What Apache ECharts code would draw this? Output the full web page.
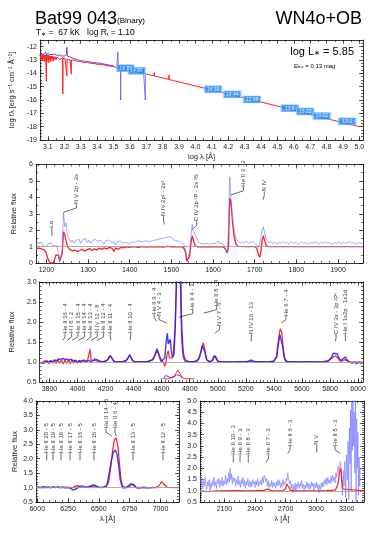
<!DOCTYPE html>
<html>
<head>
<meta charset="utf-8">
<script src="https://cdn.jsdelivr.net/npm/echarts@6.0.0/dist/echarts.min.js"></script>
<style>
    body { margin: 0; background: #fff; }
    #chart { width: 382px; height: 541px; }
</style>
</head>
<body>
<div id="chart"></div>
<script>

// ---- SED panel (log lambda, log f_lambda)
const sedModel = [[3.050,-12.60],[3.054,-12.66],[3.057,-12.85],[3.060,-12.58],[3.063,-12.95],[3.066,-12.6],[3.069,-13.05],[3.072,-12.62],[3.075,-12.9],[3.078,-12.6],[3.081,-13.12],[3.084,-12.64],[3.087,-12.85],[3.0905,-12.7],[3.091,-14.6],[3.0915,-12.75],[3.094,-13.15],[3.097,-12.66],[3.100,-12.95],[3.103,-12.64],[3.106,-13.2],[3.109,-12.68],[3.112,-12.98],[3.115,-12.7],[3.118,-13.12],[3.121,-12.72],[3.124,-12.9],[3.128,-12.7],[3.132,-13.08],[3.136,-12.74],[3.140,-12.95],[3.145,-12.76],[3.150,-13.0],[3.155,-12.78],[3.160,-12.92],[3.166,-12.8],[3.172,-12.95],[3.178,-12.82],[3.184,-12.9],[3.1905,-12.83],[3.191,-15.55],[3.1915,-12.85],[3.198,-12.95],[3.204,-12.86],[3.210,-12.98],[3.2155,-12.9],[3.216,-14.2],[3.2165,-12.92],[3.222,-13.02],[3.228,-12.93],[3.235,-13.0],[3.2425,-12.97],[3.243,-14.05],[3.2435,-12.98],[3.25,-13.05],[3.26,-13.02],[3.28,-13.1],[3.30,-13.1],[3.32,-13.2],[3.34,-13.16],[3.36,-13.26],[3.38,-13.25],[3.40,-13.32],[3.42,-13.33],[3.44,-13.37],[3.46,-13.42],[3.48,-13.46],[3.50,-13.5],[3.52,-13.55],[3.54,-13.6],[3.56,-13.65],[3.58,-13.7],[3.60,-13.75],[3.62,-13.81],[3.64,-13.87],[3.66,-13.93],[3.68,-13.99],[3.70,-14.05],[3.72,-14.11],[3.748,-14.19],[3.749,-13.95],[3.750,-14.2],[3.78,-14.29],[3.80,-14.35],[3.838,-14.46],[3.839,-14.12],[3.840,-14.47],[3.868,-14.55],[3.869,-14.42],[3.870,-14.56],[3.898,-14.64],[3.899,-14.53],[3.900,-14.65],[3.928,-14.73],[3.929,-14.63],[3.930,-14.74],[3.958,-14.82],[3.959,-14.74],[3.960,-14.83],[4.0,-14.95],[4.1,-15.25],[4.2,-15.55],[4.3,-15.85],[4.4,-16.15],[4.5,-16.46],[4.6,-16.77],[4.7,-17.08],[4.8,-17.4],[4.9,-17.7],[5.0,-18.0]];
const sedObsUV = [[3.055,-12.45],[3.060,-12.55],[3.065,-12.4],[3.070,-12.6],[3.075,-12.45],[3.080,-12.5],[3.085,-12.42],[3.089,-12.55],[3.091,-12.3],[3.093,-12.7],[3.097,-12.5],[3.100,-12.55],[3.105,-12.48],[3.110,-12.58],[3.115,-12.5],[3.120,-12.55],[3.125,-12.6],[3.130,-12.52],[3.135,-12.62],[3.140,-12.55],[3.145,-12.6],[3.150,-12.58],[3.155,-12.66],[3.160,-12.6],[3.165,-12.65],[3.170,-12.62],[3.175,-12.68],[3.180,-12.64],[3.185,-12.7],[3.190,-12.66],[3.195,-12.6],[3.200,-12.7],[3.205,-12.65],[3.210,-12.72],[3.214,-12.6],[3.216,-12.05],[3.218,-12.7],[3.225,-12.75],[3.230,-12.7],[3.240,-12.8],[3.250,-12.85],[3.260,-12.9],[3.270,-12.92],[3.280,-12.98],[3.290,-13.0],[3.300,-13.05],[3.320,-13.08],[3.340,-13.12],[3.360,-13.15],[3.380,-13.2],[3.400,-13.22],[3.420,-13.25],[3.440,-13.3],[3.460,-13.35],[3.480,-13.4],[3.500,-13.42]];
const sedObsOpt = [[3.520,-13.45],[3.525,-13.5],[3.527,-12.4],[3.529,-13.5],[3.535,-13.52],[3.543,-13.55],[3.544,-16.0],[3.545,-13.55],[3.550,-13.58],[3.560,-13.6],[3.570,-13.64],[3.580,-13.66],[3.590,-13.7],[3.600,-13.72],[3.610,-13.75],[3.620,-13.78],[3.630,-13.8],[3.640,-13.83],[3.650,-13.86],[3.660,-13.88],[3.670,-13.9],[3.675,-13.85],[3.681,-13.6],[3.684,-13.95],[3.690,-13.98],[3.693,-13.98],[3.694,-16.0],[3.695,-14.0]];
const sedPhot = [[3.573,-13.62,'14.73'],[3.641,-13.81,'14.97'],[4.108,-15.2,'14.19'],[4.225,-15.58,'14.44'],[4.345,-15.96,'13.98'],[4.575,-16.62,'13.6'],[4.670,-16.86,'13.23'],[4.770,-17.2,'13.22'],[4.925,-17.6,'13.0']];

// ---- UV panel
const uvModel = [[1175,0.88],[1182,0.9],[1188,0.86],[1194,0.82],[1199,0.65],[1203,0.3],[1207,0.06],[1212,0.0],[1217,0.02],[1220,0.25],[1223,0.5],[1226,0.56],[1229,0.45],[1232,0.1],[1235,0.05],[1238,0.6],[1241,1.9],[1244,1.75],[1247,1.35],[1251,1.0],[1256,0.82],[1262,0.74],[1268,0.78],[1274,0.7],[1280,0.76],[1286,0.84],[1291,0.72],[1297,0.8],[1303,0.88],[1309,0.76],[1315,0.86],[1321,0.8],[1327,0.9],[1333,0.83],[1339,0.92],[1345,0.86],[1351,0.95],[1357,0.9],[1362,0.7],[1366,0.92],[1372,0.84],[1378,0.95],[1385,0.92],[1392,0.98],[1400,0.95],[1410,1.0],[1420,0.96],[1430,1.0],[1440,0.97],[1450,1.0],[1460,0.98],[1470,1.0],[1480,0.97],[1490,1.01],[1500,0.99],[1510,1.0],[1520,0.98],[1528,0.97],[1533,0.75],[1537,0.1],[1541,0.0],[1544,0.45],[1547,1.2],[1550,1.65],[1553,1.4],[1557,1.05],[1562,0.99],[1580,1.0],[1600,0.99],[1615,1.0],[1625,0.97],[1630,0.85],[1634,0.62],[1637,1.0],[1640,3.95],[1643,3.7],[1646,2.7],[1650,1.7],[1655,1.15],[1660,1.01],[1680,1.0],[1700,1.0],[1705,0.9],[1709,0.5],[1712,0.35],[1715,0.7],[1718,1.4],[1721,1.66],[1724,1.35],[1728,1.05],[1735,1.0],[1800,1.0],[1900,1.0],[1960,1.0]];
const uvObs = [[1176,1.34],[1180,1.2],[1184,1.1],[1188,1.25],[1192,1.05],[1196,1.15],[1200,1.0],[1204,1.18],[1208,1.3],[1212,1.22],[1216,1.05],[1220,0.95],[1224,1.05],[1228,0.7],[1232,0.15],[1235,0.1],[1238,0.8],[1241,3.1],[1244,2.2],[1247,2.45],[1250,1.8],[1254,1.5],[1258,1.25],[1262,1.4],[1266,1.2],[1270,1.35],[1274,1.25],[1278,1.45],[1282,1.2],[1286,1.4],[1290,1.3],[1294,1.5],[1298,1.25],[1302,1.4],[1306,1.2],[1310,1.35],[1314,1.25],[1318,1.45],[1322,1.3],[1326,1.2],[1330,1.4],[1334,1.3],[1338,1.15],[1342,1.35],[1346,1.25],[1350,1.4],[1354,1.3],[1358,1.2],[1362,1.35],[1366,1.1],[1370,1.3],[1374,1.25],[1378,1.35],[1382,1.2],[1386,1.3],[1390,1.25],[1394,1.35],[1398,1.2],[1402,1.3],[1406,1.25],[1410,1.15],[1414,1.3],[1418,1.2],[1422,1.35],[1426,1.25],[1430,1.3],[1434,1.2],[1438,1.35],[1442,1.25],[1446,1.3],[1450,1.2],[1454,1.35],[1458,1.3],[1462,1.4],[1466,1.3],[1470,1.45],[1474,1.35],[1478,1.5],[1482,1.45],[1486,1.55],[1490,1.45],[1494,1.6],[1498,1.5],[1502,1.55],[1506,1.4],[1510,1.3],[1514,1.35],[1518,1.25],[1522,1.3],[1526,1.2],[1530,1.15],[1534,0.8],[1538,0.2],[1541,0.1],[1544,0.7],[1547,1.6],[1550,2.35],[1553,1.9],[1556,2.0],[1560,1.6],[1564,1.35],[1568,1.2],[1572,1.3],[1576,1.15],[1580,1.25],[1584,1.2],[1588,1.3],[1592,1.15],[1596,1.25],[1600,1.2],[1604,1.3],[1608,1.2],[1612,1.35],[1616,1.2],[1620,1.3],[1624,1.15],[1628,1.0],[1632,0.6],[1635,0.9],[1638,3.0],[1640,5.25],[1643,4.0],[1646,3.0],[1649,2.3],[1653,1.7],[1657,1.4],[1661,1.3],[1665,1.2],[1670,1.3],[1675,1.2],[1680,1.35],[1685,1.2],[1690,1.25],[1695,1.3],[1700,1.2],[1705,1.1],[1709,0.95],[1713,1.3],[1717,1.9],[1721,2.2],[1725,1.7],[1729,1.4],[1733,1.25],[1738,1.3],[1743,1.2],[1748,1.25],[1753,1.15],[1758,1.25],[1763,1.2],[1768,1.3],[1773,1.2],[1778,1.25],[1783,1.15],[1788,1.3],[1793,1.2],[1798,1.25],[1803,1.15],[1808,1.2],[1813,1.3],[1818,1.2],[1823,1.25],[1828,1.15],[1833,1.2],[1838,1.25],[1843,1.2],[1848,1.3],[1853,1.15],[1858,1.25],[1863,1.2],[1868,1.3],[1873,1.2],[1878,1.25],[1883,1.15],[1888,1.2],[1893,1.25],[1898,1.2],[1903,1.3],[1908,1.15],[1913,1.25],[1918,1.2],[1923,1.25],[1928,1.3],[1933,1.2],[1938,1.25],[1943,1.15],[1948,1.2],[1953,1.25],[1958,1.2]];
// [label x, text bottom, text, line x]
const uvIds = [[1213,2.15,'Lα',1213],[1272,3.6,'N V 2p - 2s',1242],[1481,2.85,'N IV 2p¹ - 2s¹',1483],[1561,2.55,'C IV 2p ²P - 2s ²S',1550],[1673,4.65,'He II 3 - 2',1643],[1723,4.35,'N IV',1720]];

// ---- optical panel
const optModel = [[3730,1.0],[3745,0.98],[3760,1.02],[3772,0.97],[3785,1.03],[3798,0.96],[3810,1.04],[3822,0.97],[3835,1.05],[3848,0.96],[3860,1.06],[3872,0.96],[3885,1.05],[3898,0.95],[3910,1.06],[3922,0.96],[3935,1.05],[3948,0.95],[3960,1.06],[3972,0.97],[3985,1.05],[3998,0.97],[4010,1.04],[4025,0.98],[4040,1.05],[4055,0.99],[4070,1.02],[4082,1.05],[4090,1.32],[4097,1.05],[4108,1.0],[4122,1.04],[4134,1.09],[4146,1.02],[4170,1.0],[4200,1.02],[4222,1.08],[4236,1.16],[4249,1.06],[4265,1.0],[4320,1.01],[4355,1.06],[4372,1.18],[4388,1.05],[4410,1.0],[4500,1.01],[4540,1.06],[4556,1.2],[4568,1.28],[4580,1.18],[4592,1.03],[4610,1.0],[4622,0.9],[4630,0.96],[4638,1.2],[4647,1.28],[4655,1.1],[4668,1.05],[4680,1.1],[4695,1.8],[4705,3.0],[4714,5.0],[4724,5.5],[4733,3.0],[4742,1.6],[4752,1.15],[4765,1.02],[4800,1.0],[4850,1.01],[4870,1.1],[4885,1.35],[4897,1.48],[4908,1.3],[4920,1.06],[4940,1.0],[4965,1.05],[4978,1.16],[4990,1.06],[5005,1.0],[5100,1.0],[5220,1.01],[5238,1.06],[5255,1.01],[5350,1.0],[5400,1.02],[5418,1.15],[5432,1.55],[5445,1.83],[5456,1.75],[5466,1.35],[5478,1.08],[5495,1.01],[5600,1.0],[5780,1.01],[5805,1.07],[5825,1.13],[5840,1.15],[5855,1.1],[5872,1.02],[5890,1.03],[5905,1.06],[5918,1.02],[5940,1.0],[6035,1.0]];
const optObs = [[3732,0.98],[3745,1.0],[3760,0.97],[3775,1.02],[3790,0.99],[3805,1.03],[3820,1.0],[3835,1.05],[3850,1.03],[3865,1.08],[3880,1.06],[3895,1.09],[3910,1.06],[3925,1.08],[3940,1.05],[3955,1.07],[3970,1.03],[3985,1.04],[4000,1.0],[4015,1.03],[4030,1.02],[4045,1.05],[4060,1.02],[4075,1.04],[4090,1.02],[4110,1.03],[4125,1.08],[4134,1.11],[4145,1.05],[4160,1.02],[4180,1.01],[4200,1.02],[4215,1.05],[4228,1.15],[4236,1.17],[4246,1.1],[4258,1.02],[4280,1.0],[4300,1.01],[4320,1.0],[4345,1.02],[4360,1.1],[4372,1.18],[4384,1.1],[4396,1.02],[4420,1.0],[4450,1.01],[4480,1.0],[4510,1.02],[4535,1.06],[4552,1.18],[4566,1.33],[4576,1.3],[4588,1.12],[4600,1.02],[4612,1.0],[4622,1.1],[4632,1.5],[4640,1.72],[4647,1.45],[4654,1.5],[4661,1.57],[4668,1.3],[4676,1.12],[4688,1.2],[4698,2.0],[4708,3.4],[4716,6.5],[4726,6.0],[4734,3.4],[4742,2.0],[4750,1.4],[4758,1.15],[4770,1.05],[4785,1.02],[4800,1.0],[4820,1.01],[4840,1.02],[4860,1.06],[4875,1.2],[4890,1.4],[4899,1.42],[4908,1.25],[4920,1.06],[4940,1.01],[4960,1.03],[4972,1.15],[4980,1.2],[4988,1.12],[5000,1.02],[5030,1.0],[5060,1.01],[5100,1.0],[5150,1.01],[5200,1.0],[5225,1.03],[5239,1.05],[5252,1.02],[5280,1.0],[5320,1.01],[5360,1.0],[5400,1.02],[5420,1.12],[5432,1.45],[5443,1.68],[5452,1.66],[5462,1.4],[5472,1.12],[5485,1.02],[5510,1.0],[5550,1.01],[5600,1.0],[5650,1.01],[5700,1.0],[5750,1.01],[5790,1.03],[5810,1.12],[5825,1.22],[5839,1.26],[5852,1.2],[5865,1.08],[5880,1.04],[5895,1.09],[5910,1.12],[5922,1.05],[5940,0.99],[5960,0.97],[5975,1.0],[5990,0.96],[6005,0.99],[6020,0.97],[6033,0.98]];
const optInsetModel = [[4612,0.58],[4640,0.58],[4660,0.6],[4690,0.65],[4705,0.74],[4715,0.8],[4725,0.78],[4735,0.68],[4750,0.6],[4770,0.58],[4800,0.58],[4830,0.58]];
const optInsetObs = [[4612,0.59],[4620,0.62],[4628,0.66],[4636,0.62],[4645,0.64],[4655,0.6],[4670,0.6],[4690,0.63],[4705,0.68],[4718,0.72],[4730,0.66],[4745,0.6]];
const optIds = [[3911,1.72,'He II 16 - 4',3896],[3958,1.72,'H I 8 - 2',3927],[4003,1.72,'He II 15 - 4',3961],[4050,1.72,'He II 14 - 4',4006],[4095,1.72,'He II 13 - 4',4064],[4141,1.72,'N IV 12 - 8',4096],[4186,1.72,'He II 12 - 4',4138],[4233,1.72,'He II 11 - 4',4238],[4379,1.72,'He II 10 - 4',4374],[4546,2.2,'He II 9 - 4',4566],[4581,2.15,'N V 4 - 3',4640],[4821,2.3,'He II 4 - 3',4722],[4992,2.4,'He II 8 - 4',4899],[5013,1.9,'N V 7 - 6',4980],[5239,1.7,'N IV 16 - 13',5239],[5486,2.15,'He II 7 - 4',5451],[5843,1.7,'C IV 3s - 3p ²P°',5839],[5909,1.7,'He I 1s2p - 1s3d',5910]];

// ---- red optical panel
const haModel = [[5990,1.0],[6040,1.01],[6080,1.0],[6130,1.02],[6180,1.0],[6240,1.01],[6290,1.0],[6310,1.05],[6330,1.07],[6350,1.02],[6400,1.01],[6440,1.04],[6465,1.06],[6490,1.02],[6530,1.01],[6560,1.03],[6580,1.2],[6596,1.7],[6612,2.3],[6626,2.65],[6640,2.72],[6654,2.45],[6668,1.8],[6680,1.25],[6694,1.05],[6720,1.0],[6750,1.04],[6770,1.13],[6785,1.1],[6800,1.02],[6830,1.0],[6960,1.0],[6990,1.07],[7008,1.2],[7022,1.22],[7036,1.08],[7055,1.01],[7150,1.0]];
const haObs = [[5992,1.01],[6010,1.02],[6030,1.0],[6050,1.03],[6070,1.01],[6090,1.02],[6110,0.99],[6130,1.02],[6150,1.0],[6170,1.03],[6190,1.0],[6210,1.02],[6230,0.99],[6250,1.01],[6270,0.97],[6290,0.92],[6305,0.9],[6320,0.96],[6340,1.03],[6360,1.06],[6380,1.03],[6400,1.01],[6420,1.03],[6440,1.07],[6460,1.09],[6480,1.05],[6500,1.01],[6520,1.0],[6545,1.02],[6566,1.1],[6584,1.5],[6602,1.95],[6618,2.22],[6634,2.3],[6648,2.15],[6662,1.7],[6674,1.25],[6688,1.05],[6700,0.98],[6720,1.0],[6740,1.06],[6758,1.13],[6772,1.15],[6786,1.08],[6800,1.0],[6820,0.98],[6845,1.0],[6870,1.01],[6900,0.99],[6925,1.0],[6945,1.01]];
const haIds = [[6077,2.2,'He II 20 - 5',6077],[6128,2.2,'He II 19 - 5',6128],[6193,2.2,'He II 18 - 5',6193],[6266,2.2,'He II 17 - 5',6266],[6347,2.2,'He II 16 - 5',6347],[6460,2.2,'He II 15 - 5',6460],[6558,3.05,'He II 14 - 5',6605],[6631,3.05,'He II 6 - 4',6640],[6777,2.2,'He II 13 - 5',6777],[7020,2.2,'He II 12 - 5',7020]];

// ---- near-UV panel
const nuvModel = [[1860,1.0],[1900,0.98],[1940,0.96],[1980,0.98],[2020,1.0],[2100,1.0],[2200,1.01],[2300,1.0],[2400,1.01],[2490,1.02],[2515,1.07],[2528,1.1],[2542,1.04],[2570,1.0],[2680,1.01],[2700,1.1],[2712,1.3],[2722,1.35],[2733,1.15],[2748,1.02],[2800,1.0],[2950,1.0],[3100,1.01],[3190,1.03],[3215,1.3],[3230,1.85],[3242,2.0],[3252,1.5],[3262,1.08],[3280,1.0],[3470,1.0]];
const nuvObs = [[1862,1.7],[1870,1.3],[1878,1.55],[1886,1.1],[1894,1.45],[1902,1.2],[1910,1.6],[1918,1.3],[1926,1.05],[1934,1.4],[1942,1.2],[1950,1.5],[1958,1.0],[1966,1.35],[1974,1.15],[1982,1.45],[1990,1.25],[1998,1.6],[2006,1.2],[2014,1.4],[2022,1.1],[2030,1.5],[2038,1.3],[2046,1.55],[2054,1.15],[2062,1.45],[2070,1.25],[2078,1.6],[2086,1.2],[2094,1.45],[2102,1.3],[2110,1.7],[2118,1.25],[2126,1.55],[2134,1.35],[2142,1.8],[2150,1.4],[2156,2.0],[2162,1.5],[2170,1.75],[2178,1.3],[2186,1.6],[2194,1.4],[2202,1.55],[2210,1.2],[2218,1.5],[2226,1.3],[2234,1.65],[2242,1.25],[2250,1.45],[2258,1.15],[2266,1.5],[2274,1.3],[2282,1.6],[2290,1.2],[2298,1.45],[2306,1.1],[2314,1.4],[2322,1.25],[2330,1.55],[2338,1.2],[2346,1.45],[2354,1.15],[2362,1.4],[2370,1.2],[2378,1.5],[2386,1.3],[2394,1.4],[2402,1.15],[2410,1.45],[2418,1.25],[2426,1.55],[2434,1.2],[2442,1.4],[2450,1.3],[2458,1.5],[2466,1.25],[2474,1.6],[2482,1.35],[2490,1.7],[2498,1.75],[2506,1.4],[2514,1.55],[2522,1.2],[2530,1.45],[2538,1.1],[2546,1.35],[2554,1.2],[2562,1.45],[2570,1.15],[2578,1.4],[2586,1.2],[2594,1.35],[2602,1.1],[2610,1.4],[2618,1.2],[2626,1.5],[2634,1.25],[2642,1.45],[2650,1.15],[2658,1.35],[2666,1.2],[2674,1.5],[2682,1.25],[2690,1.4],[2698,1.3],[2706,1.55],[2714,1.45],[2722,1.8],[2730,1.5],[2738,1.3],[2746,1.45],[2754,1.1],[2762,1.3],[2770,0.9],[2778,1.25],[2786,1.05],[2794,1.35],[2802,1.0],[2810,1.3],[2818,1.15],[2826,1.4],[2834,1.1],[2842,1.35],[2850,1.2],[2858,1.45],[2866,1.1],[2874,1.3],[2882,0.95],[2890,1.25],[2898,1.1],[2906,1.4],[2914,1.15],[2922,1.35],[2930,1.05],[2938,1.3],[2946,1.1],[2954,1.4],[2962,1.2],[2970,1.35],[2978,1.0],[2986,1.3],[2994,1.15],[3002,1.4],[3010,1.1],[3018,1.3],[3026,0.9],[3034,1.25],[3042,1.05],[3050,1.35],[3058,1.15],[3066,1.4],[3074,1.2],[3082,1.5],[3090,1.3],[3098,1.55],[3106,1.25],[3114,1.6],[3122,1.35],[3130,1.5],[3138,1.3],[3146,1.65],[3154,1.4],[3162,1.7],[3170,1.45],[3178,1.6],[3186,1.35],[3194,1.8],[3202,1.6],[3210,2.0],[3218,2.1],[3226,1.7],[3236,2.3],[3244,2.1],[3250,1.3],[3258,0.8],[3266,1.9],[3274,1.2],[3282,2.3],[3290,0.7],[3298,2.6],[3306,1.5],[3314,3.2],[3320,0.6],[3326,3.8],[3332,2.2],[3338,4.6],[3344,1.0],[3350,5.4],[3356,2.8],[3362,5.2],[3368,3.0],[3374,4.5],[3380,1.8],[3386,5.3],[3392,0.5],[3398,4.2],[3404,2.0],[3410,3.6],[3416,0.8],[3422,2.5],[3428,1.2],[3432,2.0]];
const nuvIds = [[2187,2.6,'He II 10 - 3',2187],[2253,2.6,'He II 9 - 3',2253],[2334,2.6,'He II 8 - 3',2334],[2531,2.6,'He II 7 - 3',2505],[2744,3.0,'He II 6 - 3',2722],[3006,3.05,'N V',3006],[3185,3.0,'He II 5 - 3',3236]];

const FONT = '"Liberation Sans", Arial, sans-serif';
const NARROW = '"Liberation Sans Narrow", "Liberation Sans", sans-serif';
const RED = '#ff1f1f';

// tick positions only
function span(a, b, step){
    let out = [];
    for(let v = a; v <= b + step * 1e-6; v += step){
        out.push(+v.toFixed(4));
    }
    return out;
}

const grids = [
    {left: 36, top: 40, width: 327, height: 100},
    {left: 36, top: 164.5, width: 327, height: 98.5},
    {left: 36, top: 282, width: 327, height: 100},
    {left: 36, top: 401, width: 143, height: 101},
    {left: 200, top: 401, width: 164, height: 101}
];

const f1 = v => v.toFixed(1);
const f0 = v => String(Math.round(v));

let xAxes = [];
let yAxes = [];

function addAxes(gi, dir, min, max, majors, minors, fmt, name, nameGap){
    let list = dir === 'x' ? xAxes : yAxes;
    let sides = dir === 'x' ? ['bottom', 'top'] : ['left', 'right'];
    let base = {type: 'value', gridIndex: gi, min: min, max: max, splitLine: {show: false}};
    let axisLine = {show: true, onZero: false, lineStyle: {color: '#000', width: 0.8}};
    let tickStyle = {color: '#000', width: 0.6};
    sides.forEach(function(side, si){
        list.push(Object.assign({}, base, {
            position: side,
            axisLine: axisLine,
            axisTick: {show: true, inside: true, length: 4, customValues: majors, lineStyle: tickStyle},
            axisLabel: si === 0
                ? {show: true, customValues: majors, formatter: fmt, fontSize: 7, fontFamily: FONT, color: '#222', margin: dir === 'x' ? 4 : 3}
                : {show: false},
            name: si === 0 ? name : '',
            nameLocation: 'middle',
            nameGap: nameGap,
            nameTextStyle: {fontSize: 7.5, fontFamily: FONT, color: '#222'}
        }));
        list.push(Object.assign({}, base, {
            position: side,
            axisLine: {show: false, onZero: false},
            axisTick: {show: true, inside: true, length: 2, customValues: minors, lineStyle: tickStyle},
            axisLabel: {show: false}
        }));
    });
}

addAxes(0, 'x', 3.052, 5.022, span(3.1, 5.0, 0.1), span(3.1, 5.0, 0.05), f1, 'log λ [Å]', 13);
addAxes(0, 'y', -19, -11.5, span(-19, -12, 1), span(-19, -11.5, 0.25), f0, 'log fλ [erg s⁻¹ cm⁻² Å⁻¹]', 21);
addAxes(1, 'x', 1175, 1960, span(1200, 1900, 100), span(1180, 1960, 20), f0, '', 12);
addAxes(1, 'y', 0, 6, span(0, 6, 1), span(0, 6, 0.5), f0, 'Relative flux', 14);
addAxes(2, 'x', 3730, 6035, span(3800, 6000, 200), span(3750, 6025, 25), f0, '', 12);
addAxes(2, 'y', 0.5, 3.0, span(0.5, 3.0, 0.5), span(0.5, 3.0, 0.1), f1, 'Relative flux', 17);
addAxes(3, 'x', 5990, 7150, span(6000, 7000, 250), span(6000, 7150, 50), f0, 'λ [Å]', 13);
addAxes(3, 'y', 0.5, 4.0, span(0.5, 4.0, 0.5), span(0.5, 4.0, 0.1), f1, 'Relative flux', 17);
addAxes(4, 'x', 1860, 3470, span(2100, 3300, 300), span(1900, 3450, 50), f0, 'λ [Å]', 13);
addAxes(4, 'y', 0.5, 5.0, span(0.5, 5.0, 0.5), span(0.5, 5.0, 0.1), f1, '', 14);

function spec(gi, data, color, width, opacity, z, baseline){
    let s = {
        type: 'line', xAxisIndex: gi * 4, yAxisIndex: gi * 4, data: data,
        showSymbol: false, symbol: 'none', z: z, silent: true, animation: false,
        lineStyle: {color: color, width: width, opacity: opacity}
    };
    if(baseline){
        s.markLine = {
            silent: true, symbol: ['none', 'none'], label: {show: false}, animation: false,
            lineStyle: {color: '#9c9c9c', width: 0.8, type: 'solid'},
            data: [{yAxis: 1}]
        };
    }
    return s;
}

function idMarks(gi, ids, stub){
    return [
        {
            type: 'lines', coordinateSystem: 'cartesian2d', xAxisIndex: gi * 4, yAxisIndex: gi * 4,
            polyline: true, silent: true, animation: false, z: 6,
            lineStyle: {color: '#000', width: 0.6, opacity: 1},
            data: ids.map(d => ({coords: [[d[0], d[1]], [d[0], d[1] - stub], [d[3], d[1] - 2 * stub]]}))
        },
        {
            type: 'scatter', xAxisIndex: gi * 4, yAxisIndex: gi * 4, silent: true, animation: false, z: 6,
            symbolSize: 1, itemStyle: {color: 'rgba(0,0,0,0)'},
            data: ids.map(d => ({value: [d[0], d[1]], label: {formatter: d[2]}})),
            label: {show: true, position: 'inside', rotate: 90, align: 'left', verticalAlign: 'middle',
                    fontSize: 6, fontFamily: NARROW, color: '#000'}
        }
    ];
}

let series = [
    spec(0, sedModel, RED, 1, 1, 2),
    spec(0, sedObsUV, '#2a2ad8', 0.9, 0.9, 3),
    spec(0, sedObsOpt, '#5c5cff', 0.9, 0.9, 3),
    {
        type: 'scatter', xAxisIndex: 0, yAxisIndex: 0, data: sedPhot, silent: true, animation: false, z: 5,
        symbol: 'rect', symbolSize: [17, 7],
        itemStyle: {color: '#1a86f5', borderColor: '#8ccaff', borderWidth: 1},
        label: {show: true, position: 'inside', formatter: p => p.value[2], fontSize: 5, fontFamily: FONT, color: '#fff'}
    },
    spec(1, uvModel, RED, 1.3, 1, 2, true),
    spec(1, uvObs, '#6b6bff', 0.8, 0.75, 3)
].concat(idMarks(1, uvIds, 0.25));

series = series.concat([
    spec(2, optModel, RED, 1.2, 1, 2, true),
    spec(2, optObs, '#1c1cff', 1.4, 0.85, 3),
    spec(2, optInsetModel, RED, 1, 1, 2),
    spec(2, optInsetObs, '#1c1cff', 1, 0.8, 3)
], idMarks(2, optIds, 0.09));

series = series.concat([
    spec(3, haModel, RED, 1.2, 1, 2, true),
    spec(3, haObs, '#1c1cff', 1.4, 0.85, 3)
], idMarks(3, haIds, 0.13));

series = series.concat([
    spec(4, nuvObs, '#6f6fff', 0.7, 0.85, 2),
    spec(4, nuvModel, RED, 1.2, 1, 3, true)
], idMarks(4, nuvIds, 0.17));

let graphics = [
    {type: 'text', left: 35, top: 10, style: {text: 'Bat99 043', font: '18px ' + FONT, fill: '#000'}},
    {type: 'text', left: 117, top: 17, style: {text: '(Binary)', font: '8px ' + FONT, fill: '#000'}},
    {type: 'text', left: 36, top: 28.5, style: {
        text: 'T{s|∗} =  67 kK   log R{s|t} = 1.10', font: '8.5px ' + FONT, fill: '#000',
        rich: {s: {fontSize: 5.5, fontFamily: FONT, verticalAlign: 'bottom', padding: [3, 0, 0, 0]}}
    }},
    {type: 'text', right: 20, top: 10, style: {text: 'WN4o+OB', font: '18px ' + FONT, fill: '#000'}},
    {type: 'text', right: 28, top: 46, style: {
        text: 'log L{s|∗} = 5.85', font: '11px ' + FONT, fill: '#000',
        rich: {s: {fontSize: 7, fontFamily: FONT, verticalAlign: 'bottom', padding: [4, 0, 0, 0]}}
    }},
    {type: 'text', left: 294, top: 63, style: {
        text: 'E{s|b-v} = 0.13 mag', font: '6px ' + NARROW, fill: '#000',
        rich: {s: {fontSize: 4, fontFamily: NARROW, verticalAlign: 'bottom', padding: [2, 0, 0, 0]}}
    }}
];

let chart = echarts.init(document.getElementById('chart'), null, {renderer: 'canvas'});
chart.setOption({
    animation: false,
    backgroundColor: '#fff',
    grid: grids,
    xAxis: xAxes,
    yAxis: yAxes,
    series: series,
    graphic: graphics
});

</script>
</body>
</html>
